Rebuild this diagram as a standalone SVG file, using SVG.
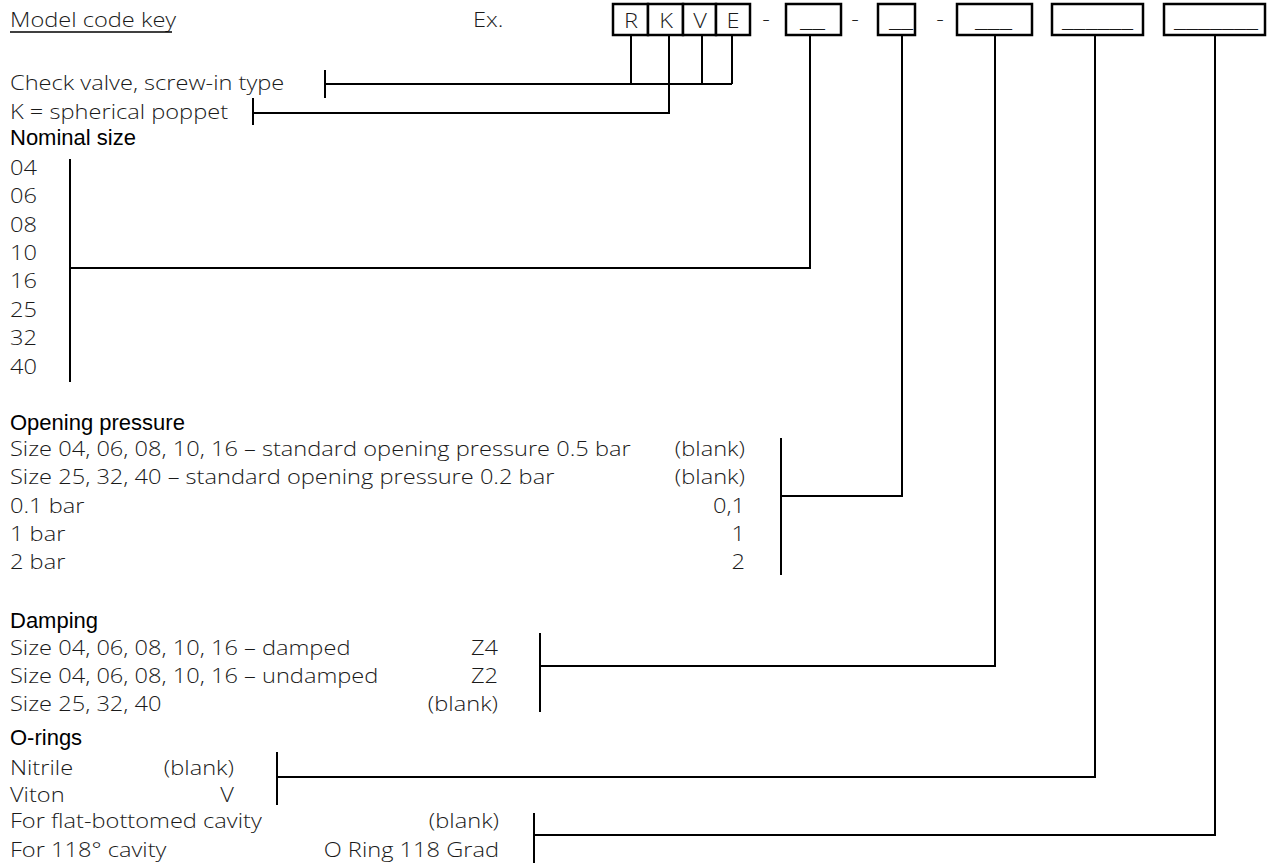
<svg xmlns="http://www.w3.org/2000/svg" width="1270" height="864" viewBox="0 0 1270 864">
<style>
.t{font-family:"Open Sans","DejaVu Sans",sans-serif;font-weight:300;font-size:21px;fill:#1a1a1a}
.h{font-family:"Liberation Sans",Arial,sans-serif;font-weight:400;font-size:22px;fill:#000}
.r{text-anchor:end}
.m{text-anchor:middle}
.box{fill:#fff;stroke:#000;stroke-width:2.5}
.ln{stroke:#000;stroke-width:2;fill:none}
</style>
<rect width="1270" height="864" fill="#fff"/>
<g id="title">
<g transform="scale(1.125,1)">
<text class="t" x="8.89" y="27">Model code key</text>
<text class="t" x="420.44" y="27">Ex.</text>
</g>
<line x1="10" y1="32" x2="172" y2="32" stroke="#000" stroke-width="1.5"/>
</g>
<g id="code">
<rect class="box" x="613" y="4" width="35" height="31"/>
<rect class="box" x="648" y="4" width="35" height="31"/>
<rect class="box" x="683" y="4" width="33" height="31"/>
<rect class="box" x="716" y="4" width="34" height="31"/>
<g transform="scale(1.125,1)">
<text class="t m" x="560.89" y="28">R</text>
<text class="t m" x="592" y="28">K</text>
<text class="t m" x="622.22" y="28">V</text>
<text class="t m" x="651.56" y="28">E</text>
<text class="t m" x="680.89" y="26">-</text>
<text class="t m" x="760" y="26">-</text>
<text class="t m" x="835.56" y="26">-</text>
</g>
<rect class="box" x="786" y="4" width="55" height="31"/>
<text class="t" x="800" y="27" textLength="25" lengthAdjust="spacingAndGlyphs">__</text>
<rect class="box" x="878" y="4" width="37" height="31"/>
<text class="t" x="889" y="27" textLength="24" lengthAdjust="spacingAndGlyphs">__</text>
<rect class="box" x="957" y="4" width="75" height="31"/>
<text class="t" x="975" y="27" textLength="37" lengthAdjust="spacingAndGlyphs">___</text>
<rect class="box" x="1052" y="4" width="91" height="31"/>
<text class="t" x="1062" y="27" textLength="71" lengthAdjust="spacingAndGlyphs">______</text>
<rect class="box" x="1164" y="4" width="101" height="31"/>
<text class="t" x="1174" y="27" textLength="84" lengthAdjust="spacingAndGlyphs">_______</text>
</g>
<g id="type" transform="scale(1.125,1)">
<text class="t" x="8.89" y="90">Check valve, screw-in type</text>
<text class="t" x="8.89" y="119">K = spherical poppet</text>
</g>
<g id="nominal">
<text class="h" x="10" y="145">Nominal size</text>
<g transform="scale(1.125,1)">
<text class="t" x="8.89" y="175">04</text>
<text class="t" x="8.89" y="203.5">06</text>
<text class="t" x="8.89" y="232">08</text>
<text class="t" x="8.89" y="260">10</text>
<text class="t" x="8.89" y="288.5">16</text>
<text class="t" x="8.89" y="317">25</text>
<text class="t" x="8.89" y="345">32</text>
<text class="t" x="8.89" y="374">40</text>
</g>
</g>
<g id="opening">
<text class="h" x="10" y="430">Opening pressure</text>
<g transform="scale(1.125,1)">
<text class="t" x="8.89" y="456">Size 04, 06, 08, 10, 16 – standard opening pressure 0.5 bar</text>
<text class="t" x="8.89" y="484">Size 25, 32, 40 – standard opening pressure 0.2 bar</text>
<text class="t" x="8.89" y="513">0.1 bar</text>
<text class="t" x="8.89" y="541">1 bar</text>
<text class="t" x="8.89" y="569">2 bar</text>
<text class="t r" x="662.22" y="456">(blank)</text>
<text class="t r" x="662.22" y="484">(blank)</text>
<text class="t r" x="662.22" y="513">0,1</text>
<text class="t r" x="662.22" y="541">1</text>
<text class="t r" x="662.22" y="569">2</text>
</g>
</g>
<g id="damping">
<text class="h" x="10" y="628">Damping</text>
<g transform="scale(1.125,1)">
<text class="t" x="8.89" y="655">Size 04, 06, 08, 10, 16 – damped</text>
<text class="t" x="8.89" y="683">Size 04, 06, 08, 10, 16 – undamped</text>
<text class="t" x="8.89" y="711">Size 25, 32, 40</text>
<text class="t r" x="442.67" y="655">Z4</text>
<text class="t r" x="442.67" y="683">Z2</text>
<text class="t r" x="442.67" y="711">(blank)</text>
</g>
</g>
<g id="orings">
<text class="h" x="10" y="745">O-rings</text>
<g transform="scale(1.125,1)">
<text class="t" x="8.89" y="775">Nitrile</text>
<text class="t" x="8.89" y="802">Viton</text>
<text class="t r" x="208" y="775">(blank)</text>
<text class="t r" x="208" y="802">V</text>
</g>
</g>
<g id="cavity" transform="scale(1.125,1)">
<text class="t" x="8.89" y="828.5">For flat-bottomed cavity</text>
<text class="t" x="8.89" y="857">For 118° cavity</text>
<text class="t r" x="443.56" y="828.5">(blank)</text>
<text class="t r" x="443.56" y="857">O Ring 118 Grad</text>
</g>
<g id="connectors" class="ln">
<path d="M631 35V84M702 35V84M732 35V84M325 84H732M325 70V98"/>
<path d="M669 35V113H253M253 98V125"/>
<path d="M810 35V268H70M70 159V382"/>
<path d="M902 35V496H781M781 438V575"/>
<path d="M995 35V666H540M540 633V712"/>
<path d="M1095 35V777H277M277 752V805"/>
<path d="M1215 35V835H534M534 813V863"/>
</g>
</svg>
